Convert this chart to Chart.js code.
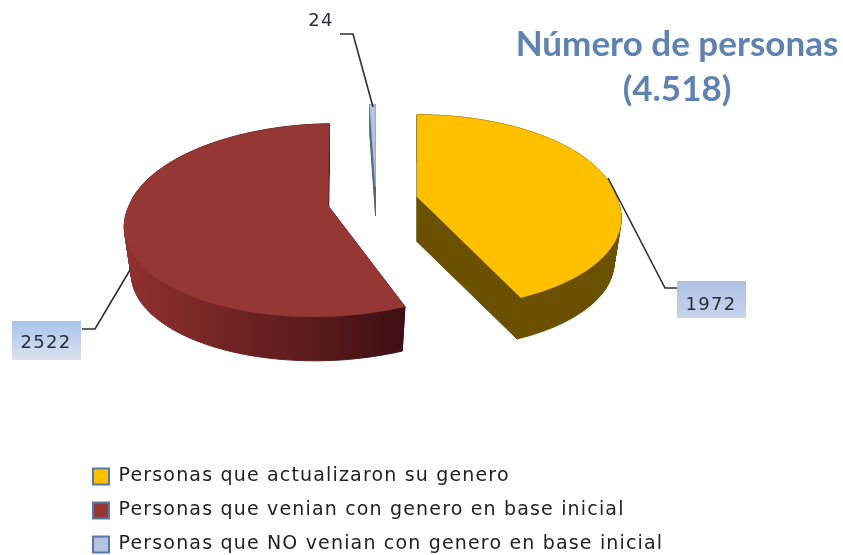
<!DOCTYPE html>
<html><head><meta charset="utf-8">
<style>html,body{margin:0;padding:0;background:#fff}#w{width:843px;height:555px;position:relative}</style>
<script src="https://cdn.jsdelivr.net/npm/chart.js@4"></script>
</head><body><div id="w"><canvas id="c" width="843" height="555"></canvas></div>
<script>
const categories = ["Personas que actualizaron su genero","Personas que venian con genero en base inicial","Personas que NO venian con genero en base inicial"];
const values = [1972, 2522, 24];
const colors = ["#ffc000","#953735","#b4c4e0"];
const titleLines = ["Número de personas","(4.518)"];

const CX = 373, CY = 201, TILT = 0.48, PERSP = 0.15, BACK = 82;
const explode = [45,46,30], depths = [45,48,29], nudgeX = [0,0,3];
const skewFront = [15,-14,0], skewBack = [0,7,0];
const sideStops = [["#6a5000","#6a5000"],["#8f302e","#3a0e12"],["#7f8ea8","#44546e"]];
const callouts = [
  {i:0, pts:[[608,178],[665,288],[677,288]], box:[677,281,69,37], grad:["#aebfe3","#c8d4eb"], tx:711, ty:305},
  {i:1, pts:[[130,270],[95,329],[82,329]], box:[12,321,69,39], grad:["#a7c4ec","#dbe2ee"], tx:46, ty:343},
  {i:2, pts:[[373,107],[353,34],[340,34]], box:null, tx:321, ty:21}
];

const pie3d = {
  id:'pie3d',
  beforeDraw(chart){ chart.ctx.letterSpacing='1.17px'; },
  afterLayout(chart){ chart.legend.top+=9; chart.legend.bottom+=9; },
  beforeDatasetsDraw(chart){
    const ctx = chart.ctx, arcs = chart.getDatasetMeta(0).data;
    ctx.letterSpacing='0px';
    const order = [2,1,0];
    order.forEach(i=>{
      const p = arcs[i].getProps(['startAngle','endAngle','outerRadius']);
      const R = p.outerRadius, mid=(p.startAngle+p.endAngle)/2;
      const ax = CX + nudgeX[i] + explode[i]*Math.cos(mid), ay = CY + explode[i]*Math.sin(mid)*TILT;
      const b = BACK*(1+PERSP);
      const proj=(a,lower)=>{
        const u=Math.cos(a), v=Math.sin(a), d=1-PERSP*v, s=lower?0.965:1;
        const sk=skewFront[i]*Math.max(0,v)+skewBack[i]*Math.max(0,-v);
        return [ax+(R*u/d+sk)*s, ay+b*v/d*s+(lower?depths[i]:0)];
      };
      const angs=[]; const n=Math.max(2,Math.ceil((p.endAngle-p.startAngle)/(Math.PI/180)));
      for(let k=0;k<=n;k++) angs.push(p.startAngle+(p.endAngle-p.startAngle)*k/n);
      const g=ctx.createLinearGradient(ax-R,0,ax+R*0.45,0);
      g.addColorStop(0,sideStops[i][0]); g.addColorStop(1,sideStops[i][1]);
      ctx.save(); ctx.fillStyle=g; ctx.strokeStyle=g; ctx.lineWidth=1; ctx.lineJoin='round';
      const poly=pts=>{ctx.beginPath();pts.forEach((q,j)=>j?ctx.lineTo(q[0],q[1]):ctx.moveTo(q[0],q[1]));ctx.closePath();ctx.fill();ctx.stroke();};
      [p.startAngle,p.endAngle].forEach(a=>poly([[ax,ay],proj(a,false),proj(a,true),[ax,ay+depths[i]]]));
      for(let k=0;k<n;k++) if(Math.sin(angs[k])<=0.62) poly([proj(angs[k],false),proj(angs[k+1],false),proj(angs[k+1],true),proj(angs[k],true)]);
      const front=angs.filter(a=>Math.sin(a)>0.6);
      if(front.length>1) poly([...front.map(a=>proj(a,false)),...front.slice().reverse().map(a=>proj(a,true))]);
      ctx.fillStyle=arcs[i].options.backgroundColor; ctx.strokeStyle=ctx.fillStyle;
      ctx.lineWidth=0.5;
      poly([[ax,ay],...angs.map(a=>proj(a,false))]);
      ctx.restore();
    });
    // leader lines and value labels
    ctx.save();
    ctx.font='18px "DejaVu Sans"'; ctx.textAlign='center'; ctx.textBaseline='middle';
    callouts.forEach(c=>{
      if(c.box){const [x,y,w,h]=c.box; const g=ctx.createLinearGradient(0,y,0,y+h);
        g.addColorStop(0,c.grad[0]);g.addColorStop(1,c.grad[1]);ctx.fillStyle=g;ctx.fillRect(x,y,w,h);}
      ctx.strokeStyle='#2a3038';ctx.lineWidth=1.6;ctx.beginPath();
      c.pts.forEach((q,j)=>j?ctx.lineTo(q[0],q[1]):ctx.moveTo(q[0],q[1]));ctx.stroke();
      ctx.letterSpacing='1.25px';
      ctx.fillStyle='#2b2f3a';ctx.fillText(String(chart.data.datasets[0].data[c.i]),c.tx,c.ty);
      ctx.letterSpacing='0px';
    });
    ctx.font='bold 35px Lato'; ctx.fillStyle='#5f83b0';
    ctx.fillText(titleLines[0],677,45); ctx.fillText(titleLines[1],677,90);
    ctx.restore();
    return false;
  }
};

new Chart(document.getElementById('c'),{
  type:'pie',
  data:{labels:categories,datasets:[{data:values,backgroundColor:colors,borderColor:"#5878a5",borderWidth:2,radius:199}]},
  plugins:[pie3d],
  options:{
    responsive:false,animation:false,
    layout:{padding:{left:78,right:0,top:0,bottom:0}},
    plugins:{
      tooltip:{enabled:false},
      legend:{position:'bottom',align:'start',labels:{
        boxWidth:16,boxHeight:16,padding:15,color:'#222',
        font:{family:'"DejaVu Sans"',size:19}
      }}
    }
  }
});
</script></body></html>
